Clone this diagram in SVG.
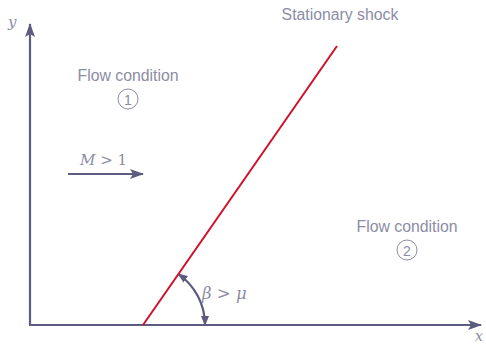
<svg xmlns="http://www.w3.org/2000/svg" width="486" height="345" viewBox="0 0 486 345">
<style>
.ax{stroke:#5c5c80;stroke-width:2.2;fill:none}
.lbl{font-family:"Liberation Sans",Arial,sans-serif;font-size:15.8px;fill:#8c8ca4}
.m{font-family:"DejaVu Serif","Liberation Serif",serif;font-style:italic;font-size:15px;fill:#8c8ca4}
.mn{font-family:"DejaVu Serif","Liberation Serif",serif;font-size:15px;fill:#8c8ca4}
</style>
<defs>
<marker id="ah" viewBox="0 0 10 8" refX="9" refY="4" markerWidth="10" markerHeight="8" markerUnits="userSpaceOnUse" orient="auto-start-reverse">
<path d="M0,0 L10,4 L0,8 z" fill="#5c5c80"/>
</marker>
<marker id="ahb" viewBox="0 0 14 10" refX="13" refY="5" markerWidth="14" markerHeight="10" markerUnits="userSpaceOnUse" orient="auto">
<path d="M0,0 L14,5 L0,10 L3,5 z" fill="#5c5c80"/>
</marker>
</defs>
<g id="connectors">
<line class="ax" x1="30" y1="325" x2="30" y2="24" marker-end="url(#ahb)"/>
<line class="ax" x1="29" y1="325" x2="481" y2="325" marker-end="url(#ahb)"/>
<line class="ax" x1="68" y1="174" x2="143" y2="174" marker-end="url(#ahb)"/>
<path class="ax" d="M178.4,274.1 A62,62 0 0 1 205,325" stroke-width="1.3" marker-start="url(#ah)" marker-end="url(#ah)"/>
</g>
<g id="shock">
<line x1="143" y1="325" x2="337" y2="46" stroke="#d0102a" stroke-width="2"/>
<text class="lbl" x="340" y="20" text-anchor="middle">Stationary shock</text>
</g>
<g id="axis-labels">
<text class="m" x="8" y="27">y</text>
<text class="m" x="475" y="341" style="font-size:14px">x</text>
</g>
<g id="flow1">
<text class="lbl" x="128" y="81" text-anchor="middle">Flow condition</text>
<circle cx="128" cy="99" r="10" fill="none" stroke="#8c8ca4" stroke-width="1"/>
<text class="lbl" x="128" y="104.5" text-anchor="middle" style="font-size:14px">1</text>
</g>
<g id="flow2">
<text class="lbl" x="407" y="232" text-anchor="middle">Flow condition</text>
<circle cx="407" cy="250" r="10" fill="none" stroke="#8c8ca4" stroke-width="1"/>
<text class="lbl" x="407" y="255.5" text-anchor="middle" style="font-size:14px">2</text>
</g>
<g id="mach">
<text x="80" y="165"><tspan class="m">M</tspan><tspan class="mn"> &gt; 1</tspan></text>
</g>
<g id="angle">
<text x="202" y="299"><tspan class="m" style="font-size:16.5px">β</tspan><tspan class="mn" style="font-size:16.5px"> &gt; </tspan><tspan class="m" style="font-size:16.5px">μ</tspan></text>
</g>
</svg>
